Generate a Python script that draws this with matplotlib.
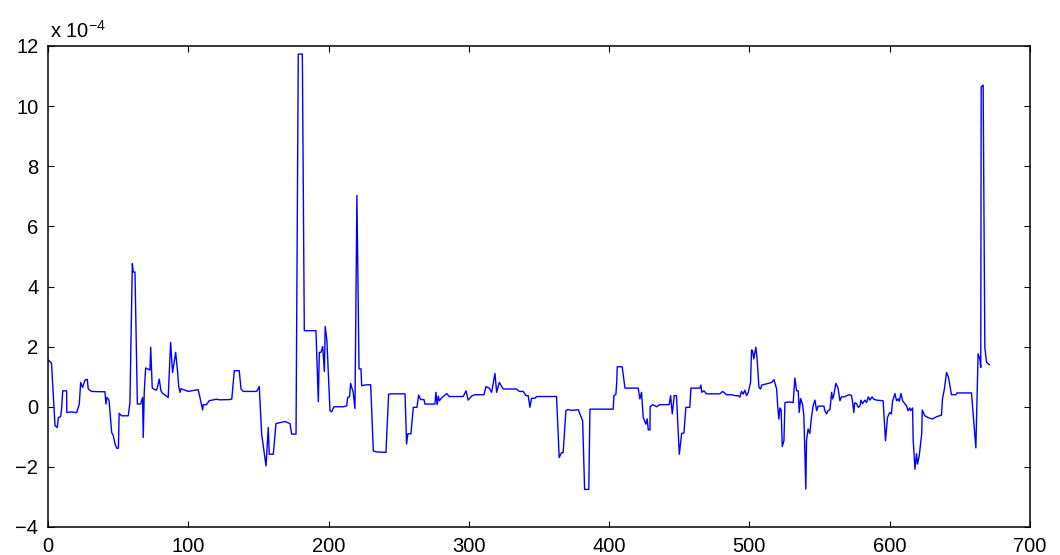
import matplotlib
matplotlib.use("Agg")
import matplotlib.pyplot as plt

# Data (x = sample index, y in units of 1e-4)
x_vals = [0.2, 1.9, 2.5, 5, 6.6, 7.4, 9, 9.7, 10.5, 13.3, 13.4, 16.9, 20.4, 22.3, 23.3, 24.7, 26.4, 28, 28.7, 31,
          37, 40.6, 41.3, 42, 43.5, 45.4, 46.5, 47.8, 49, 50.2, 50.7, 52.5, 57.2, 58.4, 60.1, 60.8, 62, 63.7,
          66, 67.4, 67.9, 68.6, 69.6, 72.7, 73.2, 74.3, 77, 77.9, 79.3, 80.5, 81.6, 85.7, 87.4, 88.8, 91, 92.4,
          93.2, 94.1, 94.8, 100, 107, 108.2, 110.2, 110.6, 113, 114.9, 120, 122.6,
          129.7, 131, 132.8, 136.3, 137.6, 139.2, 148.7, 150.6, 152.3, 155.4, 157, 157.7, 160.6, 162.5, 168.9, 172.5,
          173.7, 176.8, 178.4, 181.3, 182.7, 191, 192.7, 193.4, 194.6, 195.8, 197, 197.6, 198.8, 201, 202.2, 203.8,
          210.5, 212.9, 213.6, 215, 215.7, 217.5, 218.8, 220.2, 221.7, 223.1, 223.6, 226.7, 230, 231.9, 234, 240.9,
          242.8, 245, 254.5, 255.6, 256.5, 258.7, 260.4, 263, 264.2, 265.6, 268, 268.7, 275.8, 276.5, 277.4, 278.2,
          279, 280.7, 284.2, 286, 296, 298, 299.5, 302, 304.4, 310.8, 312.2, 314.5, 316.2, 317.4, 318.6, 319.8, 321.7,
          324.5, 334, 336, 338.8, 340.7, 342.3, 343.5, 344.7, 347, 348.3, 362.5, 364.4, 366, 367.2, 369.2, 370.7,
          373, 378, 381.1, 382.5, 385.5, 386.3, 402.9, 403.4, 404.8, 405.4, 405.8, 409.3, 411.3, 420.7, 421.9, 423.1,
          424.3, 426.2, 427.1, 427.9, 429.1, 429.2, 431.1, 434, 436, 442.8, 443.8, 445, 446.4, 448, 450, 451.7, 453.3,
          454.7, 457.5, 458.3, 464.7, 465.4, 466.1, 467.5, 469.5, 479, 480.9, 483.7, 487.3, 489.7, 492, 493.2, 494.3,
          495.5, 496.7, 498, 499.2, 500.8, 501.5, 502.2, 503.1, 504.6, 505.5, 506.8, 508, 508.7, 512.2, 514.5, 515.9,
          517.5, 519.4, 520.2, 521, 521.7, 522.6, 523.4, 524.6, 525.3, 527.7, 531.2, 532.4, 533.6, 534.8, 535.5,
          536.5, 537.9, 538.8, 540.2, 540.7, 541.8, 543, 544.2, 545.4, 546.7, 547.9, 549, 553.1, 553.8, 554.9, 556.1,
          557.4, 558.6, 559.3, 560.1, 561.6, 563.2, 564.5, 565.7, 568, 569.3, 571.6, 572.8, 573.4, 574.4, 575, 576.4,
          577.6, 578.8, 579.5, 580.6, 582.3, 583.5, 584.7, 585.9, 587.4, 588.4, 590.5, 595.3, 597, 598.4, 600, 601.2,
          602, 603.7, 604.9, 606.1, 606.8, 608, 609.2, 610.9, 612, 613, 614.2, 614.9, 616.3, 616.7, 618, 619.1, 619.8,
          621, 622.8, 623.2, 625, 627.4, 630.5, 633.4, 636.9, 637.6, 639, 640.5, 641.9, 642.9, 644, 647.1, 648, 658.3,
          661.4, 663, 664.2, 664.9, 665.2, 666.6, 667.8, 669, 670.9]
y_vals = [1.55, 1.48, 1.45, -0.63, -0.69, -0.36, -0.33, -0.07, 0.53, 0.53, -0.19, -0.17, -0.2, 0.09, 0.81, 0.64, 0.89, 0.91, 0.59, 0.51,
          0.5, 0.5, 0.09, 0.31, 0.22, -0.86, -0.95, -1.24, -1.38, -1.38, -0.22, -0.3, -0.3, 0.14, 4.76, 4.48, 4.48, 0.09,
          0.09, 0.31, -1.02, 0.48, 1.29, 1.22, 1.98, 0.62, 0.55, 0.62, 0.92, 0.53, 0.45, 0.31, 2.14, 1.14, 1.81, 1.15,
          0.67, 0.48, 0.6, 0.51, 0.57, 0.34, -0.11, 0.07, 0.07, 0.2, 0.25, 0.23,
          0.24, 0.26, 1.2, 1.2, 0.59, 0.51, 0.51, 0.67, -0.91, -1.97, -0.69, -1.58, -1.58, -0.56, -0.49, -0.56,
          -0.91, -0.91, 11.73, 11.73, 2.53, 2.53, 0.17, 1.81, 1.81, 2.0, 1.17, 2.67, 2.2, -0.13, -0.17, 0.0,
          0.0, 0.03, 0.31, 0.33, 0.78, 0.49, -0.06, 7.03, 1.26, 1.26, 0.7, 0.73, 0.73, -1.47, -1.5, -1.52,
          0.42, 0.43, 0.43, -1.24, -0.9, -0.9, -0.02, -0.02, 0.39, 0.24, 0.24, 0.09, 0.09, 0.48, 0.07, 0.35,
          0.2, 0.3, 0.44, 0.34, 0.34, 0.53, 0.22, 0.36, 0.4, 0.4, 0.67, 0.62, 0.48, 0.78, 1.11, 0.48, 0.81,
          0.59, 0.59, 0.51, 0.51, 0.37, 0.37, -0.02, 0.28, 0.28, 0.34, 0.34, -1.69, -1.53, -1.53, -0.13, -0.09,
          -0.12, -0.1, -0.47, -2.75, -2.75, -0.08, -0.08, 0.37, 0.41, 0.81, 1.33, 1.33, 0.62, 0.62, 0.26, 0.48,
          -0.36, -0.58, -0.4, -0.77, -0.77, 0.0, 0.07, 0.0, 0.07, 0.07, 0.37, -0.24, 0.37, 0.37, -1.58, -0.89, -0.87,
          -0.02, -0.02, 0.62, 0.62, 0.72, 0.48, 0.53, 0.43, 0.43, 0.51, 0.4, 0.4, 0.37, 0.37, 0.32, 0.51,
          0.42, 0.55, 0.37, 0.48, 0.81, 1.89, 1.87, 1.59, 1.98, 1.57, 0.64, 0.59, 0.72, 0.76, 0.79, 0.81,
          0.9, 0.59, -0.02, -0.41, -0.04, -0.1, -1.32, -1.13, 0.14, 0.16, 0.14, 0.96, 0.53, 0.53, -0.19,
          0.27, 0.07, -0.3, -2.74, -1.13, -0.74, -0.89, -0.36, 0.03, 0.22, -0.13, 0.02, 0.02, -0.13, -0.24, -0.13,
          -0.1, 0.48, 0.26, 0.37, 0.78, 0.62, 0.2, 0.33, 0.33, 0.37, 0.4, 0.37, 0.2, -0.19, 0.13, 0.1,
          -0.02, 0.03, 0.22, 0.1, 0.22, 0.14, 0.33, 0.22, 0.33, 0.26, 0.22, 0.2, -1.13, -0.36, -0.19, -0.24,
          0.18, 0.44, 0.2, 0.26, 0.18, 0.44, 0.2, 0.09, 0.03, -0.13, -0.04, -0.13, -0.04, -1.08, -2.08, -1.56, -1.91,
          -1.64, -0.91, -0.11, -0.3, -0.36, -0.41, -0.33, -0.28, 0.26, 0.6, 1.14, 0.98, 0.7, 0.4, 0.4, 0.46, 0.46,
          -1.37, 1.76, 1.6, 1.31, 10.64, 10.7, 1.98, 1.48, 1.4]

x_ticks = [0, 100, 200, 300, 400, 500, 600, 700]
y_ticks = [-4, -2, 0, 2, 4, 6, 8, 10, 12]
multiplier_text = r'x 10$^{\mathregular{-4}}$'

plt.rcParams['font.family'] = ['Liberation Sans', 'DejaVu Sans']
plt.rcParams['mathtext.default'] = 'regular'

W, H = 1060, 555
fig = plt.figure(figsize=(W / 100, H / 100), dpi=100)
ax = fig.add_axes([48 / W, 1 - 527 / H, (1030 - 48) / W, (527 - 46) / H])

ax.plot(x_vals, y_vals, color='#0000ff', linewidth=1.0)

ax.set_xlim(0, 700)
ax.set_ylim(-4, 12)
ax.set_xticks(x_ticks)
ax.set_yticks(y_ticks)
ax.tick_params(direction='in', length=4, width=0.8, top=True, right=True,
               labelsize=14.5, colors='black')
ax.tick_params(axis='x', pad=7)
ax.tick_params(axis='y', pad=7)
for s in ax.spines.values():
    s.set_linewidth(1.1)
    s.set_color('black')

fig.text(50 / W, 1 - 38 / H, multiplier_text, fontsize=14.5, ha='left', va='baseline')

fig.savefig('out.png', dpi=100)
